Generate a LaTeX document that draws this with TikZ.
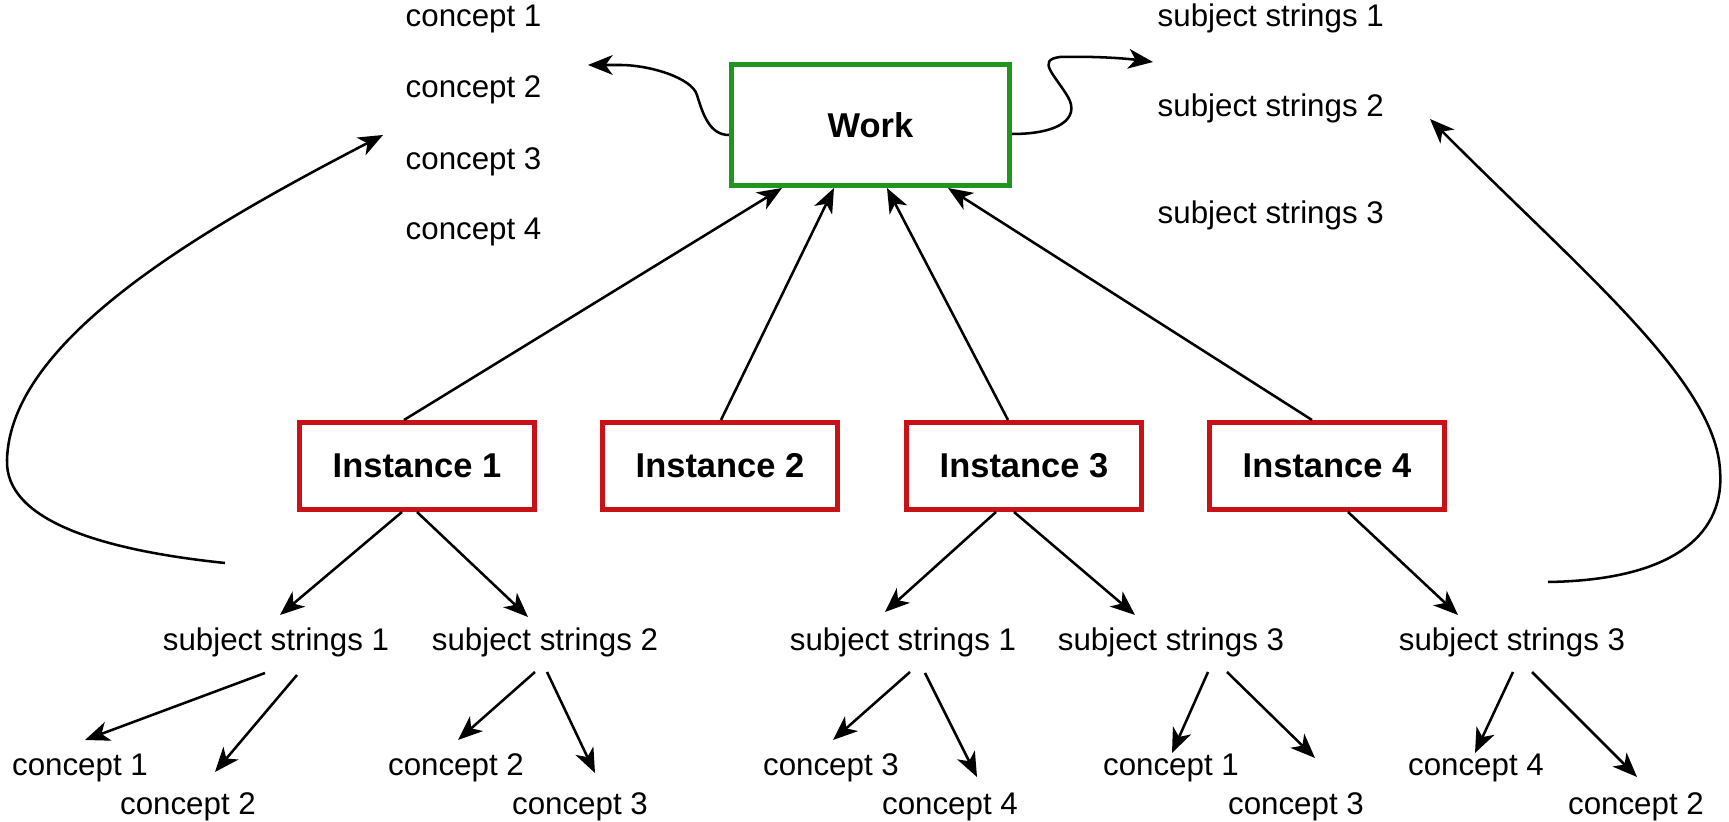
\documentclass[tikz,border=0pt]{standalone}
\usepackage{fontspec}
\setmainfont{Liberation Sans}
\usetikzlibrary{arrows.meta,calc}
\definecolor{wgreen}{RGB}{32,150,32}
\definecolor{ired}{RGB}{200,18,24}
\begin{document}
\begin{tikzpicture}[x=0.01cm,y=-0.01cm,
  arr/.style={-{Stealth[length=7pt,width=5.6pt,inset=2pt]},line width=0.72pt,black},
  lbl/.style={inner sep=0pt,font=\fontsize{8.9pt}{10.7pt}\selectfont,text height=6.4pt,text depth=1.9pt},
  workbox/.style={draw=wgreen,line width=1.5pt,fill=white,minimum width=2.777cm,minimum height=1.207cm,inner sep=0pt,font=\fontsize{9.8pt}{11pt}\selectfont\bfseries},
  instbox/.style={draw=ired,line width=1.5pt,fill=white,minimum width=2.347cm,minimum height=0.867cm,inner sep=0pt,font=\fontsize{9.8pt}{11pt}\selectfont\bfseries}]
\useasboundingbox (0,0) rectangle (1729,822);

% main nodes
\node[workbox] (work) at (870.5,125) {Work};
\node[instbox] (i1) at (417,466) {Instance 1};
\node[instbox] (i2) at (720,466) {Instance 2};
\node[instbox] (i3) at (1024,466) {Instance 3};
\node[instbox] (i4) at (1327,466) {Instance 4};

% top left concepts
\node[lbl,anchor=west] (tl1) at (405,19) {concept 1};
\node[lbl,anchor=west] (tl2) at (405,90) {concept 2};
\node[lbl,anchor=west] (tl3) at (405,162) {concept 3};
\node[lbl,anchor=west] (tl4) at (405,232) {concept 4};

% top right subject strings
\node[lbl,anchor=west] (tr1) at (1157,19) {subject strings 1};
\node[lbl,anchor=west] (tr2) at (1157,109) {subject strings 2};
\node[lbl,anchor=west] (tr3) at (1157,216) {subject strings 3};

% bottom subject strings
\node[lbl] (s1) at (276,643) {subject strings 1};
\node[lbl] (s2) at (545,643) {subject strings 2};
\node[lbl] (s3) at (903,643) {subject strings 1};
\node[lbl] (s4) at (1171,643) {subject strings 3};
\node[lbl] (s5) at (1512,643) {subject strings 3};

% bottom concepts
\node[lbl] (c1) at (80,768) {concept 1};
\node[lbl] (c2) at (188,807) {concept 2};
\node[lbl] (c3) at (456,768) {concept 2};
\node[lbl] (c4) at (580,807) {concept 3};
\node[lbl] (c5) at (831,768) {concept 3};
\node[lbl] (c6) at (950,807) {concept 4};
\node[lbl] (c7) at (1171,768) {concept 1};
\node[lbl] (c8) at (1296,807) {concept 3};
\node[lbl] (c9) at (1476,768) {concept 4};
\node[lbl] (c10) at (1636,807) {concept 2};

% instances to work
\draw[arr] ($(i1)+(-13,-46)$) -- ($(work)+(-88.5,63)$);
\draw[arr] ($(i2)+(1,-46)$) -- ($(work)+(-36.5,63)$);
\draw[arr] ($(i3)+(-16,-46)$) -- ($(work)+(16.5,63)$);
\draw[arr] ($(i4)+(-15,-46)$) -- ($(work)+(77.5,63)$);

% instances to subject strings
\draw[arr] ($(i1)+(-15,46)$) -- ($(s1)+(4,-28)$);
\draw[arr] ($(i1)+(0,46)$) -- ($(s2)+(-17,-26)$);
\draw[arr] ($(i3)+(-28,46)$) -- ($(s3)+(-18,-31)$);
\draw[arr] ($(i3)+(-10,46)$) -- ($(s4)+(-36,-28)$);
\draw[arr] ($(i4)+(21,46)$) -- ($(s5)+(-54,-28)$);

% subject strings to concepts
\draw[arr] ($(s1)+(-11,30)$) -- ($(c1)+(5,-28)$);
\draw[arr] ($(s1)+(21,32)$) -- ($(c2)+(27,-35)$);
\draw[arr] ($(s2)+(-10,29)$) -- ($(c3)+(2,-28)$);
\draw[arr] ($(s2)+(2,29)$) -- ($(c4)+(15,-34)$);
\draw[arr] ($(s3)+(7,29)$) -- ($(c5)+(2,-28)$);
\draw[arr] ($(s3)+(22,30)$) -- ($(c6)+(27,-30)$);
\draw[arr] ($(s4)+(37,29)$) -- ($(c7)+(1,-15)$);
\draw[arr] ($(s4)+(56,29)$) -- ($(c8)+(19,-49)$);
\draw[arr] ($(s5)+(1,29)$) -- ($(c9)+(-1,-15)$);
\draw[arr] ($(s5)+(20,29)$) -- ($(c10)+(1,-30)$);

% big curves
\draw[arr] ($(s1)+(-51,-80)$) .. controls (100,550) and (5,520) .. (7,460)
  .. controls (10,340) and (200,230) .. ($(tl3.west)+(-22,-27)$);
\draw[arr] ($(s5)+(36,-61)$) .. controls (1680,580) and (1725,530) .. (1720,470)
  .. controls (1715,380) and (1580,270) .. ($(tr2.west)+(273,10)$);

% wavy connectors from work
\draw[arr] ($(work.west)+(0,10)$) .. controls (710,135) and (703,115) .. (697,95)
  .. controls (692,78) and (650,65) .. (620,65) -- ($(tl2.west)+(183,-25)$);
\draw[arr] ($(work.east)+(0,9)$) .. controls (1060,134) and (1080,118) .. (1068,97)
  .. controls (1055,75) and (1036,60) .. (1060,57)
  .. controls (1100,56) and (1130,59) .. ($(tr1.west)+(-4,43)$);
\end{tikzpicture}
\end{document}
